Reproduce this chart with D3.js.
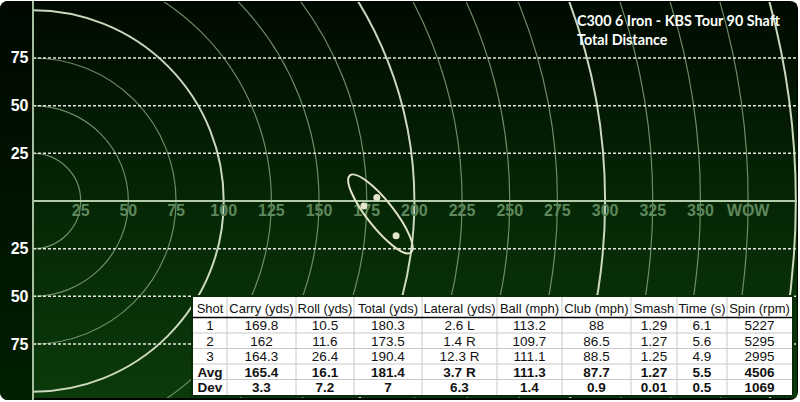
<!DOCTYPE html>
<html>
<head>
<meta charset="utf-8">
<script src="https://cdn.jsdelivr.net/npm/d3@7"></script>
<style>
  html, body { margin: 0; padding: 0; background: #ffffff; }
  svg { display: block; }
</style>
</head>
<body>
<div id="chart"></div>
<script>
// ---------------- data ----------------
const titleLines = ["C300 6 Iron - KBS Tour 90 Shaft", "Total Distance"];
const arcRadii = [25, 50, 75, 100, 125, 150, 175, 200, 225, 250, 275, 300, 325, 350, 375, 400];
const majorRadii = [100, 200, 300, 400];
const xTickValues = [25, 50, 75, 100, 125, 150, 175, 200, 225, 250, 275, 300, 325, 350, 375];
const xTickLabels = ["25", "50", "75", "100", "125", "150", "175", "200", "225", "250", "275", "300", "325", "350", "WOW"];
const yTickValues = [75, 50, 25, -25, -50, -75];
const yTickLabels = ["75", "50", "25", "25", "50", "75"];
// plotted shots: total distance (yds) and lateral offset (yds, + = right / below centre line)
const shotTotal = [180.3, 173.5, 190.4];
const shotLateral = [-1.9, 2.6, 18.2];
// dispersion ellipse (yds): centre, semi-axes, rotation (deg)
const ellipseCenter = [182.2, 6.8];
const ellipseAxes = [25.8, 7.0];
const ellipseAngle = 51.7;
// table
const tableHeaders = ["Shot", "Carry (yds)", "Roll (yds)", "Total (yds)", "Lateral (yds)", "Ball (mph)", "Club (mph)", "Smash", "Time (s)", "Spin (rpm)"];
const tableRowLabels = ["1", "2", "3", "Avg", "Dev"];
const carryCol   = ["169.8", "162", "164.3", "165.4", "3.3"];
const rollCol    = ["10.5", "11.6", "26.4", "16.1", "7.2"];
const totalCol   = ["180.3", "173.5", "190.4", "181.4", "7"];
const lateralCol = ["2.6 L", "1.4 R", "12.3 R", "3.7 R", "6.3"];
const ballCol    = ["113.2", "109.7", "111.1", "111.3", "1.4"];
const clubCol    = ["88", "86.5", "88.5", "87.7", "0.9"];
const smashCol   = ["1.29", "1.27", "1.25", "1.27", "0.01"];
const timeCol    = ["6.1", "5.6", "4.9", "5.5", "0.5"];
const spinCol    = ["5227", "5295", "2995", "4506", "1069"];
const boldRows = ["Avg", "Dev"];

// ---------------- layout ----------------
const W = 800, H = 402;
const plotLeft = 33, plotTop = 2, plotRight = 797, plotBottom = 398;
const pxPerYd = 1.907;
const cy = 201;

const svg = d3.select("#chart").append("svg").attr("width", W).attr("height", H);
const defs = svg.append("defs");

const bgGrad = defs.append("linearGradient").attr("id", "bgGrad").attr("x1", 0).attr("y1", 0).attr("x2", 0).attr("y2", 1);
bgGrad.append("stop").attr("offset", "0%").attr("stop-color", "#000a00");
bgGrad.append("stop").attr("offset", "50%").attr("stop-color", "#052605");
bgGrad.append("stop").attr("offset", "100%").attr("stop-color", "#0b3a0b");

const stripGrad = defs.append("linearGradient").attr("id", "stripGrad").attr("x1", 0).attr("y1", 0).attr("x2", 0).attr("y2", 1);
stripGrad.append("stop").attr("offset", "0%").attr("stop-color", "#000800");
stripGrad.append("stop").attr("offset", "100%").attr("stop-color", "#001f00");

defs.append("clipPath").attr("id", "frameClip")
  .append("rect").attr("x", 0).attr("y", 1).attr("width", 798).attr("height", 399).attr("rx", 8);
defs.append("clipPath").attr("id", "plotClip")
  .append("rect").attr("x", plotLeft).attr("y", plotTop).attr("width", plotRight - plotLeft).attr("height", plotBottom - plotTop);

const x = d3.scaleLinear().domain([0, 400]).range([plotLeft, plotLeft + 400 * pxPerYd]);
const y = d3.scaleLinear().domain([-100, 100]).range([cy - 100 * pxPerYd, cy + 100 * pxPerYd]); // + lateral = right = down
const yUp = v => y(-v);

const frame = svg.append("g").attr("clip-path", "url(#frameClip)");
frame.append("rect").attr("x", 0).attr("y", 0).attr("width", W).attr("height", H).attr("fill", "#000500");
frame.append("rect").attr("x", 0).attr("y", 0).attr("width", plotLeft).attr("height", H).attr("fill", "url(#stripGrad)");
frame.append("rect").attr("x", plotLeft).attr("y", plotTop).attr("width", plotRight - plotLeft).attr("height", plotBottom - plotTop).attr("fill", "url(#bgGrad)");

const plot = frame.append("g").attr("clip-path", "url(#plotClip)");

// arcs
plot.selectAll("circle.arc").data(arcRadii).enter().append("circle")
  .attr("class", "arc")
  .attr("cx", x(0)).attr("cy", y(0))
  .attr("r", d => x(d) - x(0))
  .attr("fill", "none")
  .attr("stroke", d => majorRadii.includes(d) ? "#d6e2c8" : "#7f9f78")
  .attr("stroke-opacity", d => majorRadii.includes(d) ? 0.95 : 0.85)
  .attr("stroke-width", d => majorRadii.includes(d) ? 2 : 1.2);

// dashed horizontal grid
plot.selectAll("line.grid").data(yTickValues).enter().append("line")
  .attr("x1", plotLeft).attr("x2", plotRight)
  .attr("y1", d => yUp(d)).attr("y2", d => yUp(d))
  .attr("stroke", "#e4e8e0").attr("stroke-width", 1.5)
  .attr("stroke-dasharray", "3,2");

// centre line
plot.append("line").attr("x1", plotLeft).attr("x2", plotRight).attr("y1", y(0)).attr("y2", y(0))
  .attr("stroke", "#b4ccac").attr("stroke-width", 2);

// x labels
plot.selectAll("text.xl").data(xTickValues).enter().append("text")
  .attr("x", d => x(d)).attr("y", y(0) + 15)
  .attr("text-anchor", "middle")
  .attr("font-family", "'Liberation Sans', Arial, sans-serif")
  .attr("font-weight", "bold").attr("font-size", 16)
  .attr("fill", "#5e875c")
  .text((d, i) => xTickLabels[i]);

// ellipse
plot.append("ellipse")
  .attr("cx", 0).attr("cy", 0)
  .attr("rx", x(ellipseAxes[0]) - x(0))
  .attr("ry", x(ellipseAxes[1]) - x(0))
  .attr("transform", `translate(${x(ellipseCenter[0])},${y(ellipseCenter[1])}) rotate(${ellipseAngle})`)
  .attr("fill", "none").attr("stroke", "#dfe2c4").attr("stroke-width", 2);

// shots
plot.selectAll("circle.shot").data(shotTotal).enter().append("circle")
  .attr("cx", d => x(d)).attr("cy", (d, i) => y(shotLateral[i]))
  .attr("r", 3.5).attr("fill", "#e6e6cc");

// y axis line
frame.append("line").attr("x1", plotLeft).attr("x2", plotLeft).attr("y1", 0).attr("y2", H)
  .attr("stroke", "#a6bea0").attr("stroke-width", 2);

// y labels
frame.selectAll("text.yl").data(yTickValues).enter().append("text")
  .attr("x", 28.5).attr("y", d => yUp(d) + 5.5)
  .attr("text-anchor", "end")
  .attr("font-family", "'Liberation Sans', Arial, sans-serif")
  .attr("font-weight", "bold").attr("font-size", 16)
  .attr("fill", "#ffffff")
  .text((d, i) => yTickLabels[i]);

// title
const titleG = frame.append("g");
titleLines.forEach((t, i) => {
  const tx = titleG.append("text").attr("x", 577).attr("y", 26 + i * 19)
    .attr("font-family", "Lato, 'Open Sans', sans-serif")
    .attr("font-weight", "bold").attr("font-size", 15)
    .attr("fill", "#ffffff").text(t);
  if (i === 0) {
    const w = tx.node().getComputedTextLength();
    const fs = 15 * 203 / w;
    titleG.selectAll("text").attr("font-size", fs);
  } else {
    tx.attr("font-size", titleG.select("text").attr("font-size"));
  }
});

// ---------------- table ----------------
const colEdges = [193, 227, 296, 354, 422, 497, 562, 631, 677, 727, 792];
const tableTop = 297, headerBottom = 317.5, tableBottom = 395;
const rowH = (tableBottom - headerBottom) / tableRowLabels.length;
const columns = [tableRowLabels, carryCol, rollCol, totalCol, lateralCol, ballCol, clubCol, smashCol, timeCol, spinCol];

const tg = frame.append("g");
tg.append("rect").attr("x", colEdges[0] - 1).attr("y", tableTop - 1)
  .attr("width", colEdges[colEdges.length - 1] - colEdges[0] + 2).attr("height", tableBottom - tableTop + 2)
  .attr("fill", "#ffffff").attr("stroke", "#0b2a0b").attr("stroke-width", 2);

tableRowLabels.slice(1).forEach((r, i) => {
  const yy = headerBottom + rowH * (i + 1);
  tg.append("line").attr("x1", colEdges[0]).attr("x2", colEdges[colEdges.length - 1])
    .attr("y1", yy).attr("y2", yy).attr("stroke", "#c8c8c8").attr("stroke-width", 1);
});
colEdges.slice(1, -1).forEach(cx => {
  tg.append("line").attr("x1", cx).attr("x2", cx).attr("y1", tableTop).attr("y2", tableBottom)
    .attr("stroke", "#c8c8c8").attr("stroke-width", 1);
});
tg.append("line").attr("x1", colEdges[0]).attr("x2", colEdges[colEdges.length - 1])
  .attr("y1", headerBottom).attr("y2", headerBottom).attr("stroke", "#000").attr("stroke-width", 1.5);

tableHeaders.forEach((h, c) => {
  tg.append("text").attr("x", (colEdges[c] + colEdges[c + 1]) / 2).attr("y", 312.5)
    .attr("text-anchor", "middle")
    .attr("font-family", "'Liberation Sans', Arial, sans-serif").attr("font-size", 13)
    .attr("fill", "#111").text(h);
});
columns.forEach((col, c) => {
  col.forEach((v, r) => {
    const bold = boldRows.includes(tableRowLabels[r]);
    tg.append("text").attr("x", (colEdges[c] + colEdges[c + 1]) / 2)
      .attr("y", headerBottom + rowH * r + rowH / 2 + 5)
      .attr("text-anchor", "middle")
      .attr("font-family", "'Liberation Sans', Arial, sans-serif").attr("font-size", 13.5)
      .attr("font-weight", bold ? "bold" : "normal")
      .attr("fill", "#111").text(v);
  });
});
</script>
</body>
</html>
